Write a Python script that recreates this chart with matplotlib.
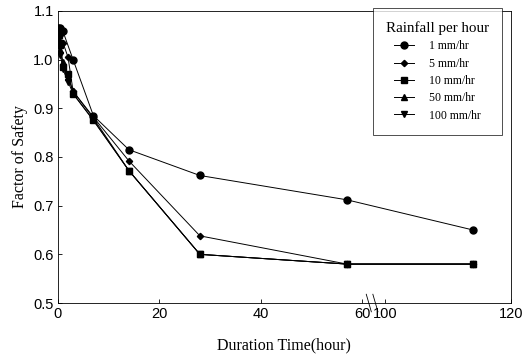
import numpy as np
import matplotlib
matplotlib.use("Agg")
import matplotlib.pyplot as plt
from matplotlib.transforms import blended_transform_factory

# duration time (hour) and factor of safety
t_1 = [0, 0.5, 1, 3, 7, 14, 28, 57, 114]
fs_1 = [1.065, 1.066, 1.058, 1.0, 0.885, 0.815, 0.762, 0.712, 0.650]

t_5 = [0, 0.25, 0.5, 1, 2, 3, 7, 14, 28, 57, 114]
fs_5 = [1.065, 1.06, 1.05, 1.035, 1.005, 0.935, 0.882, 0.792, 0.638, 0.58, 0.58]

t_10 = [0, 0.25, 0.5, 1, 2, 3, 7, 14, 28, 57, 114]
fs_10 = [1.065, 1.05, 1.03, 0.985, 0.97, 0.93, 0.875, 0.772, 0.60, 0.58, 0.58]

t_50 = [0, 0.25, 0.5, 1, 2, 3, 7, 14, 28, 57, 114]
fs_50 = [1.06, 1.04, 1.02, 0.995, 0.965, 0.935, 0.88, 0.772, 0.60, 0.58, 0.58]

t_100 = [0, 0.25, 0.5, 1, 2, 3, 7, 14, 28, 57, 114]
fs_100 = [1.055, 1.035, 1.01, 0.98, 0.955, 0.93, 0.876, 0.772, 0.60, 0.58, 0.58]

labels = ["1 mm/hr", "5 mm/hr", "10 mm/hr", "50 mm/hr", "100 mm/hr"]
xticks = [0, 20, 40, 60, 100, 120]
yticks = [0.5, 0.6, 0.7, 0.8, 0.9, 1.0, 1.1]

# broken x axis: 0-60 linear, then 100-120 compressed
GAP_START = 64.5
K = 1.24


def fwd(x):
    x = np.asarray(x, dtype=float)
    return np.where(x <= 80, x, GAP_START + (x - 100) * K)


def inv(p):
    p = np.asarray(p, dtype=float)
    return np.where(p <= 62, p, 100 + (p - GAP_START) / K)


serif = "Liberation Serif"
sans = "Liberation Sans"

fig = plt.figure(figsize=(5.31, 3.54), dpi=100)
ax = fig.add_axes([0.109, 0.144, 0.853, 0.825])
ax.set_xscale("function", functions=(fwd, inv))

lw = 0.7
ax.plot(t_50, fs_50, "-^", color="black", lw=lw, ms=4, label=labels[3], zorder=2)
ax.plot(t_100, fs_100, "-v", color="black", lw=lw, ms=4, label=labels[4], zorder=2)
ax.plot(t_10, fs_10, "-s", color="black", lw=lw, ms=4.5, label=labels[2], zorder=3)
ax.plot(t_5, fs_5, "-D", color="black", lw=lw, ms=3.2, label=labels[1], zorder=3)
ax.plot(t_1, fs_1, "-o", color="black", lw=lw, ms=5, label=labels[0], zorder=4)

ax.set_xlim(0, 120)
ax.set_ylim(0.5, 1.1)
ax.set_xticks(xticks)
ax.set_xticklabels([str(v) for v in xticks])
ax.set_yticks(yticks)
ax.set_yticklabels(["%.1f" % v for v in yticks])
ax.tick_params(direction="in", length=3, width=0.6, labelsize=10.5, pad=3)
for lab in ax.get_xticklabels() + ax.get_yticklabels():
    lab.set_fontfamily(sans)
for s in ax.spines.values():
    s.set_linewidth(0.6)

ax.set_xlabel("Duration Time(hour)", fontfamily=serif, fontsize=11.5, labelpad=12)
ax.set_ylabel("Factor of Safety", fontfamily=serif, fontsize=11.5, labelpad=4)

# axis break marks
trans = blended_transform_factory(ax.transData, ax.transAxes)
for i in range(2):
    x0 = inv(fwd(60) + 0.8 + i * 1.3)
    x1 = inv(fwd(60) + 1.8 + i * 1.3)
    ax.plot([float(x0), float(x1)], [0.03, -0.03], transform=trans,
            color="black", lw=0.6, clip_on=False)

handles, labs = ax.get_legend_handles_labels()
order = [labs.index(l) for l in labels]
leg = ax.legend([handles[i] for i in order], [labs[i] for i in order],
                title="Rainfall per hour", loc="upper left",
                bbox_to_anchor=(373 / 531, 1 - 8 / 354),
                bbox_transform=fig.transFigure,
                prop={"family": serif, "size": 8.5},
                title_fontproperties={"family": serif, "size": 10.8},
                frameon=True, fancybox=False, edgecolor="black",
                handlelength=1.7, labelspacing=0.45, borderpad=1.1,
                borderaxespad=0, handletextpad=1.3)
leg.get_frame().set_linewidth(0.6)
leg._legend_box.sep = 4

fig.savefig("out.png", dpi=100)
